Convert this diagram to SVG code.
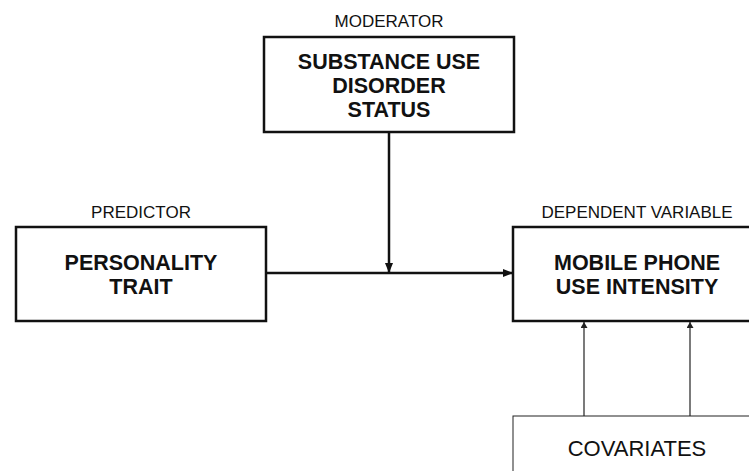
<svg xmlns="http://www.w3.org/2000/svg" width="749" height="471" viewBox="0 0 749 471">
<defs>
<style>
.box{fill:#fff;stroke:#111;stroke-width:2.5}
.thinbox{fill:#fff;stroke:#222;stroke-width:1}
.lab{font-family:"Liberation Sans",Arial,sans-serif;font-size:17px;fill:#111;text-anchor:middle}
.title{font-family:"Liberation Sans",Arial,sans-serif;font-size:21.5px;font-weight:bold;fill:#111;text-anchor:middle}
.cov{font-family:"Liberation Sans",Arial,sans-serif;font-size:22px;fill:#111;text-anchor:middle}
.thick{stroke:#111;stroke-width:2.5;fill:none}
.thin{stroke:#222;stroke-width:1.2;fill:none}
</style>
<marker id="ah" markerWidth="10" markerHeight="8" refX="9" refY="4" orient="auto" markerUnits="userSpaceOnUse"><path d="M0,0 L10,4 L0,8 Z" fill="#111"/></marker>
<marker id="ahs" markerWidth="6" markerHeight="7" refX="6" refY="3.5" orient="auto" markerUnits="userSpaceOnUse"><path d="M0,0 L6,3.5 L0,7 Z" fill="#222"/></marker>
</defs>
<g id="connectors">
<line class="thick" x1="266" y1="273" x2="512" y2="273" marker-end="url(#ah)"/>
<line class="thick" x1="389" y1="133" x2="389" y2="272" marker-end="url(#ah)"/>
<line class="thin" x1="584" y1="416" x2="584" y2="322" marker-end="url(#ahs)"/>
<line class="thin" x1="690" y1="416" x2="690" y2="322" marker-end="url(#ahs)"/>
</g>
<g id="moderator">
<text class="lab" x="389" y="27">MODERATOR</text>
<rect class="box" x="264" y="37" width="250" height="95"/>
<text class="title" x="389" y="69">SUBSTANCE USE</text>
<text class="title" x="389" y="93">DISORDER</text>
<text class="title" x="389" y="117">STATUS</text>
</g>
<g id="predictor">
<text class="lab" x="141" y="218">PREDICTOR</text>
<rect class="box" x="16" y="227" width="250" height="94"/>
<text class="title" x="141" y="270">PERSONALITY</text>
<text class="title" x="141" y="294">TRAIT</text>
</g>
<g id="dependent">
<text class="lab" x="637" y="218">DEPENDENT VARIABLE</text>
<rect class="box" x="513" y="227" width="250" height="94"/>
<text class="title" x="637" y="270">MOBILE PHONE</text>
<text class="title" x="637" y="294">USE INTENSITY</text>
</g>
<g id="covariates">
<rect class="thinbox" x="513" y="416" width="250" height="70"/>
<text class="cov" x="637" y="456">COVARIATES</text>
</g>
</svg>
